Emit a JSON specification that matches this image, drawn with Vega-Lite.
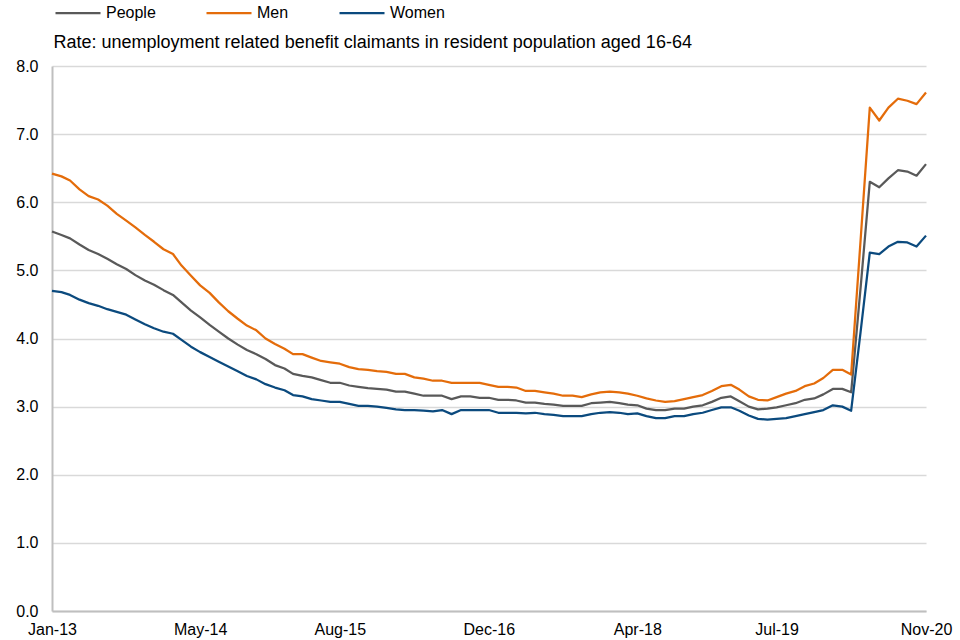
{
"$schema": "https://vega.github.io/schema/vega-lite/v6.json",
"width": 874, "height": 545,
"autosize": {"type": "none"},
"padding": {"left": 52, "top": 66, "right": 34, "bottom": 29},
"background": "white",
"config": {"view": {"stroke": null}, "font": "Liberation Sans"},
"data": {"values": [
{"d":"2013-01-01","s":"People","v":5.57},{"d":"2013-02-01","s":"People","v":5.52},{"d":"2013-03-01","s":"People","v":5.47},{"d":"2013-04-01","s":"People","v":5.38},{"d":"2013-05-01","s":"People","v":5.30},{"d":"2013-06-01","s":"People","v":5.24},{"d":"2013-07-01","s":"People","v":5.17},{"d":"2013-08-01","s":"People","v":5.09},{"d":"2013-09-01","s":"People","v":5.02},{"d":"2013-10-01","s":"People","v":4.93},{"d":"2013-11-01","s":"People","v":4.85},{"d":"2013-12-01","s":"People","v":4.79},
{"d":"2014-01-01","s":"People","v":4.71},{"d":"2014-02-01","s":"People","v":4.64},{"d":"2014-03-01","s":"People","v":4.53},{"d":"2014-04-01","s":"People","v":4.41},{"d":"2014-05-01","s":"People","v":4.31},{"d":"2014-06-01","s":"People","v":4.20},{"d":"2014-07-01","s":"People","v":4.10},{"d":"2014-08-01","s":"People","v":4.00},{"d":"2014-09-01","s":"People","v":3.91},{"d":"2014-10-01","s":"People","v":3.83},{"d":"2014-11-01","s":"People","v":3.77},{"d":"2014-12-01","s":"People","v":3.70},
{"d":"2015-01-01","s":"People","v":3.61},{"d":"2015-02-01","s":"People","v":3.56},{"d":"2015-03-01","s":"People","v":3.48},{"d":"2015-04-01","s":"People","v":3.45},{"d":"2015-05-01","s":"People","v":3.43},{"d":"2015-06-01","s":"People","v":3.39},{"d":"2015-07-01","s":"People","v":3.35},{"d":"2015-08-01","s":"People","v":3.35},{"d":"2015-09-01","s":"People","v":3.31},{"d":"2015-10-01","s":"People","v":3.29},{"d":"2015-11-01","s":"People","v":3.27},{"d":"2015-12-01","s":"People","v":3.26},
{"d":"2016-01-01","s":"People","v":3.25},{"d":"2016-02-01","s":"People","v":3.22},{"d":"2016-03-01","s":"People","v":3.22},{"d":"2016-04-01","s":"People","v":3.19},{"d":"2016-05-01","s":"People","v":3.16},{"d":"2016-06-01","s":"People","v":3.16},{"d":"2016-07-01","s":"People","v":3.16},{"d":"2016-08-01","s":"People","v":3.11},{"d":"2016-09-01","s":"People","v":3.15},{"d":"2016-10-01","s":"People","v":3.15},{"d":"2016-11-01","s":"People","v":3.13},{"d":"2016-12-01","s":"People","v":3.13},
{"d":"2017-01-01","s":"People","v":3.10},{"d":"2017-02-01","s":"People","v":3.10},{"d":"2017-03-01","s":"People","v":3.09},{"d":"2017-04-01","s":"People","v":3.06},{"d":"2017-05-01","s":"People","v":3.06},{"d":"2017-06-01","s":"People","v":3.04},{"d":"2017-07-01","s":"People","v":3.03},{"d":"2017-08-01","s":"People","v":3.01},{"d":"2017-09-01","s":"People","v":3.01},{"d":"2017-10-01","s":"People","v":3.01},{"d":"2017-11-01","s":"People","v":3.05},{"d":"2017-12-01","s":"People","v":3.06},
{"d":"2018-01-01","s":"People","v":3.07},{"d":"2018-02-01","s":"People","v":3.05},{"d":"2018-03-01","s":"People","v":3.03},{"d":"2018-04-01","s":"People","v":3.02},{"d":"2018-05-01","s":"People","v":2.97},{"d":"2018-06-01","s":"People","v":2.95},{"d":"2018-07-01","s":"People","v":2.95},{"d":"2018-08-01","s":"People","v":2.97},{"d":"2018-09-01","s":"People","v":2.97},{"d":"2018-10-01","s":"People","v":3.00},{"d":"2018-11-01","s":"People","v":3.02},{"d":"2018-12-01","s":"People","v":3.07},
{"d":"2019-01-01","s":"People","v":3.13},{"d":"2019-02-01","s":"People","v":3.15},{"d":"2019-03-01","s":"People","v":3.08},{"d":"2019-04-01","s":"People","v":3.00},{"d":"2019-05-01","s":"People","v":2.96},{"d":"2019-06-01","s":"People","v":2.97},{"d":"2019-07-01","s":"People","v":2.99},{"d":"2019-08-01","s":"People","v":3.02},{"d":"2019-09-01","s":"People","v":3.05},{"d":"2019-10-01","s":"People","v":3.10},{"d":"2019-11-01","s":"People","v":3.12},{"d":"2019-12-01","s":"People","v":3.18},
{"d":"2020-01-01","s":"People","v":3.26},{"d":"2020-02-01","s":"People","v":3.26},{"d":"2020-03-01","s":"People","v":3.21},{"d":"2020-04-01","s":"People","v":4.75},{"d":"2020-05-01","s":"People","v":6.30},{"d":"2020-06-01","s":"People","v":6.22},{"d":"2020-07-01","s":"People","v":6.35},{"d":"2020-08-01","s":"People","v":6.47},{"d":"2020-09-01","s":"People","v":6.45},{"d":"2020-10-01","s":"People","v":6.39},{"d":"2020-11-01","s":"People","v":6.56},
{"d":"2013-01-01","s":"Men","v":6.42},{"d":"2013-02-01","s":"Men","v":6.38},{"d":"2013-03-01","s":"Men","v":6.32},{"d":"2013-04-01","s":"Men","v":6.19},{"d":"2013-05-01","s":"Men","v":6.09},{"d":"2013-06-01","s":"Men","v":6.04},{"d":"2013-07-01","s":"Men","v":5.95},{"d":"2013-08-01","s":"Men","v":5.83},{"d":"2013-09-01","s":"Men","v":5.73},{"d":"2013-10-01","s":"Men","v":5.63},{"d":"2013-11-01","s":"Men","v":5.52},{"d":"2013-12-01","s":"Men","v":5.42},
{"d":"2014-01-01","s":"Men","v":5.31},{"d":"2014-02-01","s":"Men","v":5.24},{"d":"2014-03-01","s":"Men","v":5.07},{"d":"2014-04-01","s":"Men","v":4.92},{"d":"2014-05-01","s":"Men","v":4.78},{"d":"2014-06-01","s":"Men","v":4.67},{"d":"2014-07-01","s":"Men","v":4.53},{"d":"2014-08-01","s":"Men","v":4.40},{"d":"2014-09-01","s":"Men","v":4.29},{"d":"2014-10-01","s":"Men","v":4.19},{"d":"2014-11-01","s":"Men","v":4.12},{"d":"2014-12-01","s":"Men","v":4.00},
{"d":"2015-01-01","s":"Men","v":3.92},{"d":"2015-02-01","s":"Men","v":3.85},{"d":"2015-03-01","s":"Men","v":3.77},{"d":"2015-04-01","s":"Men","v":3.77},{"d":"2015-05-01","s":"Men","v":3.72},{"d":"2015-06-01","s":"Men","v":3.67},{"d":"2015-07-01","s":"Men","v":3.65},{"d":"2015-08-01","s":"Men","v":3.63},{"d":"2015-09-01","s":"Men","v":3.58},{"d":"2015-10-01","s":"Men","v":3.55},{"d":"2015-11-01","s":"Men","v":3.54},{"d":"2015-12-01","s":"Men","v":3.52},
{"d":"2016-01-01","s":"Men","v":3.51},{"d":"2016-02-01","s":"Men","v":3.48},{"d":"2016-03-01","s":"Men","v":3.48},{"d":"2016-04-01","s":"Men","v":3.43},{"d":"2016-05-01","s":"Men","v":3.41},{"d":"2016-06-01","s":"Men","v":3.38},{"d":"2016-07-01","s":"Men","v":3.38},{"d":"2016-08-01","s":"Men","v":3.35},{"d":"2016-09-01","s":"Men","v":3.35},{"d":"2016-10-01","s":"Men","v":3.35},{"d":"2016-11-01","s":"Men","v":3.35},{"d":"2016-12-01","s":"Men","v":3.32},
{"d":"2017-01-01","s":"Men","v":3.29},{"d":"2017-02-01","s":"Men","v":3.29},{"d":"2017-03-01","s":"Men","v":3.28},{"d":"2017-04-01","s":"Men","v":3.23},{"d":"2017-05-01","s":"Men","v":3.23},{"d":"2017-06-01","s":"Men","v":3.21},{"d":"2017-07-01","s":"Men","v":3.19},{"d":"2017-08-01","s":"Men","v":3.16},{"d":"2017-09-01","s":"Men","v":3.16},{"d":"2017-10-01","s":"Men","v":3.14},{"d":"2017-11-01","s":"Men","v":3.18},{"d":"2017-12-01","s":"Men","v":3.21},
{"d":"2018-01-01","s":"Men","v":3.22},{"d":"2018-02-01","s":"Men","v":3.21},{"d":"2018-03-01","s":"Men","v":3.19},{"d":"2018-04-01","s":"Men","v":3.16},{"d":"2018-05-01","s":"Men","v":3.12},{"d":"2018-06-01","s":"Men","v":3.09},{"d":"2018-07-01","s":"Men","v":3.07},{"d":"2018-08-01","s":"Men","v":3.08},{"d":"2018-09-01","s":"Men","v":3.11},{"d":"2018-10-01","s":"Men","v":3.14},{"d":"2018-11-01","s":"Men","v":3.17},{"d":"2018-12-01","s":"Men","v":3.23},
{"d":"2019-01-01","s":"Men","v":3.30},{"d":"2019-02-01","s":"Men","v":3.32},{"d":"2019-03-01","s":"Men","v":3.25},{"d":"2019-04-01","s":"Men","v":3.15},{"d":"2019-05-01","s":"Men","v":3.10},{"d":"2019-06-01","s":"Men","v":3.09},{"d":"2019-07-01","s":"Men","v":3.14},{"d":"2019-08-01","s":"Men","v":3.19},{"d":"2019-09-01","s":"Men","v":3.23},{"d":"2019-10-01","s":"Men","v":3.30},{"d":"2019-11-01","s":"Men","v":3.34},{"d":"2019-12-01","s":"Men","v":3.42},
{"d":"2020-01-01","s":"Men","v":3.54},{"d":"2020-02-01","s":"Men","v":3.54},{"d":"2020-03-01","s":"Men","v":3.47},{"d":"2020-04-01","s":"Men","v":5.45},{"d":"2020-05-01","s":"Men","v":7.39},{"d":"2020-06-01","s":"Men","v":7.20},{"d":"2020-07-01","s":"Men","v":7.39},{"d":"2020-08-01","s":"Men","v":7.52},{"d":"2020-09-01","s":"Men","v":7.49},{"d":"2020-10-01","s":"Men","v":7.44},{"d":"2020-11-01","s":"Men","v":7.61},
{"d":"2013-01-01","s":"Women","v":4.70},{"d":"2013-02-01","s":"Women","v":4.68},{"d":"2013-03-01","s":"Women","v":4.64},{"d":"2013-04-01","s":"Women","v":4.57},{"d":"2013-05-01","s":"Women","v":4.52},{"d":"2013-06-01","s":"Women","v":4.48},{"d":"2013-07-01","s":"Women","v":4.43},{"d":"2013-08-01","s":"Women","v":4.39},{"d":"2013-09-01","s":"Women","v":4.35},{"d":"2013-10-01","s":"Women","v":4.28},{"d":"2013-11-01","s":"Women","v":4.21},{"d":"2013-12-01","s":"Women","v":4.15},
{"d":"2014-01-01","s":"Women","v":4.10},{"d":"2014-02-01","s":"Women","v":4.07},{"d":"2014-03-01","s":"Women","v":3.98},{"d":"2014-04-01","s":"Women","v":3.88},{"d":"2014-05-01","s":"Women","v":3.80},{"d":"2014-06-01","s":"Women","v":3.73},{"d":"2014-07-01","s":"Women","v":3.66},{"d":"2014-08-01","s":"Women","v":3.59},{"d":"2014-09-01","s":"Women","v":3.52},{"d":"2014-10-01","s":"Women","v":3.45},{"d":"2014-11-01","s":"Women","v":3.40},{"d":"2014-12-01","s":"Women","v":3.33},
{"d":"2015-01-01","s":"Women","v":3.28},{"d":"2015-02-01","s":"Women","v":3.24},{"d":"2015-03-01","s":"Women","v":3.17},{"d":"2015-04-01","s":"Women","v":3.15},{"d":"2015-05-01","s":"Women","v":3.11},{"d":"2015-06-01","s":"Women","v":3.09},{"d":"2015-07-01","s":"Women","v":3.07},{"d":"2015-08-01","s":"Women","v":3.07},{"d":"2015-09-01","s":"Women","v":3.04},{"d":"2015-10-01","s":"Women","v":3.01},{"d":"2015-11-01","s":"Women","v":3.01},{"d":"2015-12-01","s":"Women","v":3.00},
{"d":"2016-01-01","s":"Women","v":2.98},{"d":"2016-02-01","s":"Women","v":2.96},{"d":"2016-03-01","s":"Women","v":2.95},{"d":"2016-04-01","s":"Women","v":2.95},{"d":"2016-05-01","s":"Women","v":2.94},{"d":"2016-06-01","s":"Women","v":2.93},{"d":"2016-07-01","s":"Women","v":2.95},{"d":"2016-08-01","s":"Women","v":2.89},{"d":"2016-09-01","s":"Women","v":2.95},{"d":"2016-10-01","s":"Women","v":2.95},{"d":"2016-11-01","s":"Women","v":2.95},{"d":"2016-12-01","s":"Women","v":2.95},
{"d":"2017-01-01","s":"Women","v":2.91},{"d":"2017-02-01","s":"Women","v":2.91},{"d":"2017-03-01","s":"Women","v":2.91},{"d":"2017-04-01","s":"Women","v":2.90},{"d":"2017-05-01","s":"Women","v":2.91},{"d":"2017-06-01","s":"Women","v":2.89},{"d":"2017-07-01","s":"Women","v":2.88},{"d":"2017-08-01","s":"Women","v":2.86},{"d":"2017-09-01","s":"Women","v":2.86},{"d":"2017-10-01","s":"Women","v":2.86},{"d":"2017-11-01","s":"Women","v":2.89},{"d":"2017-12-01","s":"Women","v":2.91},
{"d":"2018-01-01","s":"Women","v":2.92},{"d":"2018-02-01","s":"Women","v":2.91},{"d":"2018-03-01","s":"Women","v":2.89},{"d":"2018-04-01","s":"Women","v":2.90},{"d":"2018-05-01","s":"Women","v":2.86},{"d":"2018-06-01","s":"Women","v":2.83},{"d":"2018-07-01","s":"Women","v":2.83},{"d":"2018-08-01","s":"Women","v":2.86},{"d":"2018-09-01","s":"Women","v":2.86},{"d":"2018-10-01","s":"Women","v":2.89},{"d":"2018-11-01","s":"Women","v":2.91},{"d":"2018-12-01","s":"Women","v":2.95},
{"d":"2019-01-01","s":"Women","v":2.99},{"d":"2019-02-01","s":"Women","v":2.99},{"d":"2019-03-01","s":"Women","v":2.94},{"d":"2019-04-01","s":"Women","v":2.87},{"d":"2019-05-01","s":"Women","v":2.82},{"d":"2019-06-01","s":"Women","v":2.81},{"d":"2019-07-01","s":"Women","v":2.82},{"d":"2019-08-01","s":"Women","v":2.83},{"d":"2019-09-01","s":"Women","v":2.86},{"d":"2019-10-01","s":"Women","v":2.89},{"d":"2019-11-01","s":"Women","v":2.92},{"d":"2019-12-01","s":"Women","v":2.95},
{"d":"2020-01-01","s":"Women","v":3.02},{"d":"2020-02-01","s":"Women","v":3.00},{"d":"2020-03-01","s":"Women","v":2.94},{"d":"2020-04-01","s":"Women","v":4.10},{"d":"2020-05-01","s":"Women","v":5.26},{"d":"2020-06-01","s":"Women","v":5.24},{"d":"2020-07-01","s":"Women","v":5.35},{"d":"2020-08-01","s":"Women","v":5.42},{"d":"2020-09-01","s":"Women","v":5.41},{"d":"2020-10-01","s":"Women","v":5.35},{"d":"2020-11-01","s":"Women","v":5.51}
]},
"mark": {"type": "line", "strokeWidth": 2.25, "strokeJoin": "round"},
"encoding": {
  "x": {"field": "d", "type": "temporal",
    "scale": {"type": "utc", "nice": false, "domain": [{"year": 2013, "month": 1, "date": 1, "utc": true}, {"year": 2020, "month": 11, "date": 1, "utc": true}]},
    "axis": {"title": null,
      "values": [{"year": 2013, "month": 1, "date": 1, "utc": true}, {"year": 2014, "month": 5, "date": 1, "utc": true}, {"year": 2015, "month": 8, "date": 1, "utc": true}, {"year": 2016, "month": 12, "date": 1, "utc": true}, {"year": 2018, "month": 4, "date": 1, "utc": true}, {"year": 2019, "month": 7, "date": 1, "utc": true}, {"year": 2020, "month": 11, "date": 1, "utc": true}],
      "labelExpr": "utcFormat(datum.value, '%b-%y')", "ticks": false, "grid": false,
      "domain": true, "domainColor": "#bfbfbf", "domainWidth": 2,
      "labelFontSize": 16, "labelColor": "#000000", "labelPadding": 10,
      "labelFlush": false, "labelOverlap": false, "labelBound": false}},
  "y": {"field": "v", "type": "quantitative",
    "scale": {"domain": [0, 8], "nice": false, "zero": true},
    "axis": {"values": [0, 1, 2, 3, 4, 5, 6, 7, 8], "format": ".1f", "ticks": false,
      "domain": true, "domainColor": "#bfbfbf", "domainWidth": 2,
      "grid": true, "gridColor": "#d9d9d9", "gridWidth": 1.3,
      "labelFontSize": 16, "labelColor": "#000000", "labelPadding": 14,
      "title": "Rate: unemployment related benefit claimants in resident population aged 16-64",
      "titleAngle": 0, "titleX": 1, "titleY": -19, "titleAlign": "left", "titleBaseline": "alphabetic",
      "titleFontSize": 18, "titleFontWeight": "normal", "titleColor": "#000000"}},
  "color": {"field": "s", "type": "nominal",
    "scale": {"domain": ["People", "Men", "Women"], "range": ["#595959", "#E46C0A", "#0B4A7E"]},
    "legend": {"title": null, "orient": "none", "direction": "horizontal", "legendX": 2, "legendY": -77,
      "symbolType": "stroke", "symbolSize": 2025, "symbolStrokeWidth": 2.25, "symbolOffset": 0,
      "labelOffset": 4, "columnPadding": 46, "padding": 0, "gridAlign": "each",
      "labelFontSize": 16, "labelColor": "#000000", "labelFont": "Liberation Sans"}}
}
}
